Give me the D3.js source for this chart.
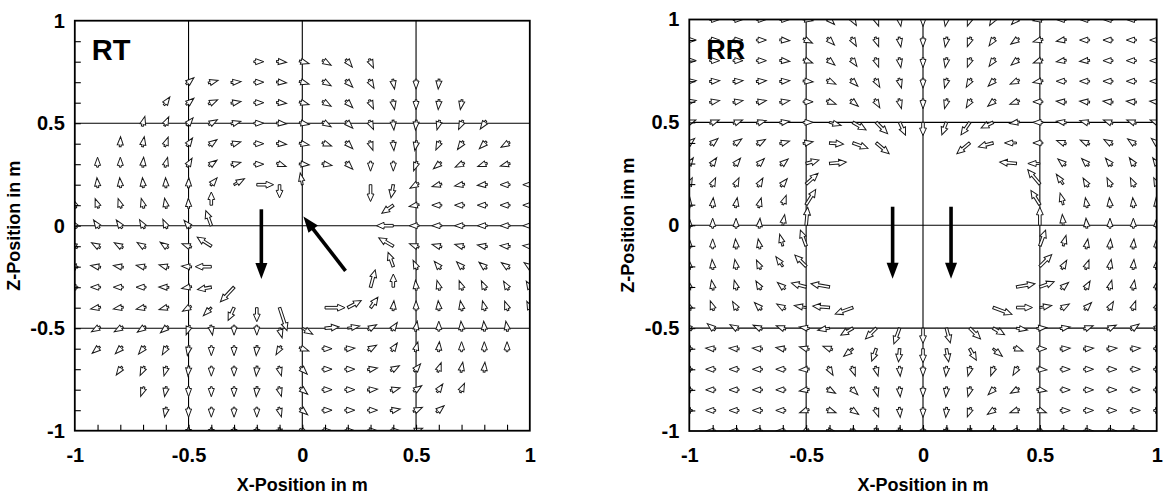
<!DOCTYPE html>
<html><head><meta charset="utf-8">
<script src="https://cdn.jsdelivr.net/npm/d3@7/dist/d3.min.js"></script>
<style>
body{margin:0;background:#fff}
svg{display:block}
text{font-family:"Liberation Sans",Arial,Helvetica,sans-serif;font-weight:bold;fill:#000}
</style>
</head><body>
<svg id="chart" width="1167" height="498"></svg>
<script>
// ---------------- data ----------------
const majorTicks = [-1, -0.5, 0, 0.5, 1];
const majorLabels = ["-1", "-0.5", "0", "0.5", "1"];
const minorTicks = [-0.9,-0.8,-0.7,-0.6,-0.5,-0.4,-0.3,-0.2,-0.1,0,0.1,0.2,0.3,0.4,0.5,0.6,0.7,0.8,0.9];
const gridLines = [-0.5, 0, 0.5];
const smallMag = 0.1;           // magnitude of the ordinary (small) vectors

// RT panel: rows [z, first x, angles in degrees (0 = +x, 90 = +z), null = no vector]
const rtRows = [
  [0.8, -0.2, [0,-5,-15,-30,-50,-65]],
  [0.7, -0.5, [40,15,5,0,-5,-15,-30,-45,-60,-80,-90,-95]],
  [0.6, -0.6, [55,40,25,10,0,-5,-15,-30,-45,-65,-80,-90,-95,-100]],
  [0.5, -0.7, [75,65,50,30,15,0,-5,-10,-30,-45,-65,-85,-95,-105,-115,-125]],
  [0.4, -0.8, [88,80,70,55,35,15,0,-5,-10,-20,-45,-70,-85,-100,-115,-125,-135,-150]],
  [0.3, -0.9, [90,90,85,75,60,35,15,0,-20,-5,-10,-45,-90,-90,-110,-140,-155,-160,-165]],
  [0.2, -0.9, [95,95,95,92,88,50,30,0,-90,100,null,null,-90,-100,-150,-165,-170,-175,180,180]],
  [0.1, -1.0, [110,110,108,105,100,92,90,null,null,null,null,null,null,null,-145,-170,180,180,180,180,180]],
  [0.0, -1.0, [125,125,125,120,115,130,110,null,null,null,null,null,null,null,180,180,180,180,180,180,180]],
  [-0.1,-1.0, [150,150,150,148,145,160,147,null,null,null,null,null,null,null,150,160,165,165,170,175,175]],
  [-0.2,-1.0, [170,170,170,168,165,175,180,null,null,null,null,null,null,null,110,115,130,135,140,145,145]],
  [-0.3,-1.0, [180,180,180,180,178,-170,-170,-133,null,null,null,null,null,75,90,95,105,110,115,120,120]],
  [-0.4,-0.9, [-170,-170,-168,-165,-150,-135,-115,-90,-72,null,0,28,55,85,90,95,100,105,110,115]],
  [-0.5,-0.9, [-150,-150,-145,-140,-110,-80,-90,-90,-75,-30,5,10,30,55,80,90,95,95,100]],
  [-0.6,-0.9, [-140,-135,-130,-120,-100,-90,-90,-95,-120,-20,0,5,30,55,75,85,90,90,90]],
  [-0.7,-0.8, [-125,-115,-105,-95,-90,-90,-95,-75,-45,0,0,10,30,50,70,80,85]],
  [-0.8,-0.7, [-110,-100,-90,-90,-90,-95,-75,-40,0,0,5,15,35,55,65]],
  [-0.9,-0.6, [-100,-90,-90,-90,-90,-75,-40,0,0,0,10,25,40]],
  [-1.0,-0.5, [-90,-90,-90,-90,-80,-30,0,0,0,0,20]]
];
// RT larger vectors: [x, z, magnitude]
const rtMags = [
  [-0.4,0.2,0.2],[-0.3,0.2,0.3],[-0.2,0.2,0.42],[-0.1,0.2,0.33],[0,0.2,0.3],[0.3,0.2,0.42],[0.4,0.2,0.33],
  [-0.4,0.1,0.33],[0.4,0.1,0.35],
  [-0.4,0,0.4],[0.4,0,0.42],
  [-0.4,-0.1,0.42],[0.4,-0.1,0.42],
  [-0.4,-0.2,0.4],[0.4,-0.2,0.38],
  [-0.4,-0.3,0.35],[-0.3,-0.3,0.5],[0.3,-0.3,0.45],[0.4,-0.3,0.33],
  [-0.4,-0.4,0.28],[-0.3,-0.4,0.35],[-0.2,-0.4,0.35],[-0.1,-0.4,0.6],[0.1,-0.4,0.5],[0.2,-0.4,0.38],[0.3,-0.4,0.32],
  [-0.1,-0.5,0.25],[0,-0.5,0.3],[0.1,-0.5,0.35],[0.2,-0.5,0.3]
];
// RR panel rows (all start at x = -1)
const rrRows = [
  [1.0, -1.0, [null,0,0,0,0,-10,-45,-60,-70,-80,-90,-100,-110,-120,-135,-170,180,180,180,180,null]],
  [0.9, -1.0, [0,0,0,0,-5,-25,-45,-60,-70,-80,-90,-100,-110,-125,-145,-165,-170,180,180,180,180]],
  [0.8, -1.0, [0,0,0,0,-5,-20,-40,-55,-70,-80,-90,-100,-110,-125,-140,-160,-170,-175,180,180,180]],
  [0.7, -1.0, [5,5,5,5,5,-5,-25,-45,-60,-75,-90,-105,-120,-135,-155,-170,180,180,180,180,180]],
  [0.6, -1.0, [10,10,10,10,10,0,-20,-40,-60,-75,-90,-105,-120,-140,-160,180,175,175,175,175,175]],
  [0.5, -1.0, [20,20,20,15,10,0,-15,-30,-45,-65,-90,-110,-125,-155,-170,180,170,165,160,160,160]],
  [0.4, -1.0, [40,40,35,30,15,10,-5,-20,-40,null,null,null,-140,-165,180,180,160,155,150,145,140]],
  [0.3, -1.0, [55,55,50,45,40,15,5,null,null,null,null,null,null,null,175,180,140,135,130,125,125]],
  [0.2, -1.0, [65,65,65,60,50,42,null,null,null,null,null,null,null,null,null,130,125,120,115,115,115]],
  [0.1, -1.0, [85,85,80,75,70,58,null,null,null,null,null,null,null,null,null,122,105,100,95,95,95]],
  [0.0, -1.0, [90,90,90,85,80,85,null,null,null,null,null,null,null,null,null,90,95,95,90,90,90]],
  [-0.1,-1.0, [90,90,95,100,105,110,null,null,null,null,null,null,null,null,null,70,75,80,85,85,90]],
  [-0.2,-1.0, [95,95,100,115,125,135,null,null,null,null,null,null,null,null,null,45,60,70,80,85,85]],
  [-0.3,-1.0, [100,100,105,120,140,165,170,null,null,null,null,null,null,null,10,20,40,60,75,80,80]],
  [-0.4,-1.0, [110,110,120,135,150,170,175,-160,null,null,null,null,null,-20,0,10,30,45,60,70,70]],
  [-0.5,-1.0, [140,140,150,155,160,170,-170,-150,-135,-110,-90,-75,-45,-30,-10,5,10,20,25,35,40]],
  [-0.6,-1.0, [180,175,175,175,170,165,160,-140,-110,-95,-90,-80,-60,-40,-20,0,5,5,5,5,0]],
  [-0.7,-1.0, [180,180,180,180,180,-175,-60,-70,-75,-85,-90,-95,-105,-110,-120,-5,0,0,0,0,0]],
  [-0.8,-1.0, [180,180,180,180,180,-170,-30,-45,-75,-85,-90,-95,-105,-135,-150,-10,0,0,0,0,0]],
  [-0.9,-1.0, [180,180,180,180,180,-160,-20,-35,-70,-85,-90,-95,-110,-145,-160,-20,0,0,0,0,0]],
  [-1.0,-1.0, [null,180,180,180,180,-150,-10,-30,-60,-80,-90,-100,-120,-150,-170,-30,0,0,0,0,null]]
];
const rrMags = [
  [-0.4,0.5,0.3],[-0.3,0.5,0.38],[-0.2,0.5,0.4],[-0.1,0.5,0.35],[0,0.5,0.33],[0.1,0.5,0.33],[0.2,0.5,0.38],[0.3,0.5,0.33],
  [-0.4,0.4,0.35],[-0.3,0.4,0.4],[-0.2,0.4,0.42],[0.2,0.4,0.42],[0.3,0.4,0.38],[0.4,0.4,0.3],
  [-0.5,0.3,0.33],[-0.4,0.3,0.42],[0.4,0.3,0.42],[0.5,0.3,0.3],
  [-0.5,0.2,0.4],[0.5,0.2,0.47],[0.6,0.2,0.3],
  [-0.6,0.1,0.25],[-0.5,0.1,0.45],[0.5,0.1,0.42],[0.6,0.1,0.3],
  [-0.6,0,0.27],[-0.5,0,0.45],[0.5,0,0.45],[0.6,0,0.27],
  [-0.6,-0.1,0.3],[-0.5,-0.1,0.42],[0.5,-0.1,0.42],[0.6,-0.1,0.27],
  [-0.6,-0.2,0.3],[-0.5,-0.2,0.4],[0.5,-0.2,0.42],
  [-0.5,-0.3,0.38],[-0.4,-0.3,0.47],[0.4,-0.3,0.47],[0.5,-0.3,0.38],
  [-0.5,-0.4,0.3],[-0.4,-0.4,0.42],[-0.3,-0.4,0.47],[0.3,-0.4,0.5],[0.4,-0.4,0.4],[0.5,-0.4,0.3],
  [-0.4,-0.5,0.3],[-0.3,-0.5,0.35],[-0.2,-0.5,0.38],[-0.1,-0.5,0.42],[0,-0.5,0.38],[0.1,-0.5,0.38],[0.2,-0.5,0.38],[0.3,-0.5,0.33],[0.4,-0.5,0.28],
  [-0.3,-0.6,0.3],[-0.2,-0.6,0.33],[-0.1,-0.6,0.33],[0,-0.6,0.35],[0.1,-0.6,0.33],[0.2,-0.6,0.33],[0.3,-0.6,0.3]
];
// bold black arrows: [x0, z0, x1, z1]
const rtBlack = [[-0.18,0.08,-0.18,-0.26],[0.19,-0.22,0.005,0.045]];
const rrBlack = [[-0.13,0.09,-0.13,-0.26],[0.12,0.09,0.12,-0.26]];

const panels = [
  {key:"rt", name:"RT", ytitle:"Z-Position in m", xtitle:"X-Position in m",
   rows:rtRows, mags:rtMags, black:rtBlack, px:[74.8,529.8], py:[430.7,20.7], nameSize:29},
  {key:"rr", name:"RR", ytitle:"Z-Position im m", xtitle:"X-Position in m",
   rows:rrRows, mags:rrMags, black:rrBlack, px:[689.3,1156.7], py:[431,19.5], nameSize:27}
];

// ---------------- drawing ----------------
const svg = d3.select("#chart");
const K = 40;        // px per magnitude unit
const LMIN = 10;     // min glyph length
const HL = 7.5, HW = 3.0, SW = 0.9;

function vectors(rows, mags){
  const mm = new Map(mags.map(d => [d[0].toFixed(1)+","+d[1].toFixed(1), d[2]]));
  const out = [];
  rows.forEach(([z,x0,angs]) => angs.forEach((a,i) => {
    if (a === null) return;
    const x = Math.round((x0 + i*0.1)*10)/10;
    const k = x.toFixed(1)+","+z.toFixed(1);
    out.push({x, z, a, m: mm.has(k) ? mm.get(k) : smallMag});
  }));
  return out;
}
function glyph(L){
  const t = -L/2, h = L/2 - (L > 12 ? HL : 8.2);
  const hw = L > 12 ? HW + 0.4 : HW, sw = L > 12 ? SW + 0.4 : SW;
  return `M${t},${-sw}L${h},${-sw}L${h},${-hw}L${L/2},0L${h},${hw}L${h},${sw}L${t},${sw}Z`;
}

panels.forEach(p => {
  const x = d3.scaleLinear().domain([-1,1]).range(p.px);
  const y = d3.scaleLinear().domain([-1,1]).range(p.py);
  const g = svg.append("g");
  const [L,R] = p.px, [B,T] = p.py;

  svg.append("defs").append("clipPath").attr("id","clip-"+p.key)
    .append("rect").attr("x",L).attr("y",T).attr("width",R-L).attr("height",B-T);

  // grid
  g.append("g").selectAll("line.v").data(gridLines).join("line")
    .attr("x1",d=>x(d)).attr("x2",d=>x(d)).attr("y1",T).attr("y2",B)
    .attr("stroke","#000").attr("stroke-width",1.1);
  g.append("g").selectAll("line.h").data(gridLines).join("line")
    .attr("y1",d=>y(d)).attr("y2",d=>y(d)).attr("x1",L).attr("x2",R)
    .attr("stroke","#000").attr("stroke-width",1.1);

  // vectors
  const vs = vectors(p.rows, p.mags);
  g.append("g").attr("clip-path",`url(#clip-${p.key})`)
    .selectAll("path").data(vs).join("path")
    .attr("d", d => glyph(Math.max(d.m*K, LMIN)))
    .attr("transform", d => {
      const l = d.m*K, r = d.a*Math.PI/180;
      const cx = x(d.x) + Math.cos(r)*l/2, cy = y(d.z) - Math.sin(r)*l/2;
      return `translate(${cx},${cy}) rotate(${-d.a})`;
    })
    .attr("fill","#fff").attr("stroke","#1a1a1a").attr("stroke-width",1)
    .attr("stroke-linejoin","miter");

  // minor ticks (inside)
  g.append("g").attr("transform",`translate(${L},0)`)
    .call(d3.axisRight(y).tickValues(minorTicks).tickSize(6).tickFormat(""))
    .call(s => s.select(".domain").remove())
    .selectAll("line").attr("stroke","#000").attr("stroke-width",1.1);
  g.append("g").attr("transform",`translate(0,${B})`)
    .call(d3.axisTop(x).tickValues(minorTicks).tickSize(6).tickFormat(""))
    .call(s => s.select(".domain").remove())
    .selectAll("line").attr("stroke","#000").attr("stroke-width",1.1);

  // frame
  g.append("rect").attr("x",L).attr("y",T).attr("width",R-L).attr("height",B-T)
    .attr("fill","none").attr("stroke","#000").attr("stroke-width",1.8);

  // black arrows
  p.black.forEach(([x0,z0,x1,z1]) => {
    const X0=x(x0),Y0=y(z0),X1=x(x1),Y1=y(z1);
    const ang = Math.atan2(Y1-Y0, X1-X0), len = Math.hypot(X1-X0,Y1-Y0);
    const hl = 16, hw = 6;
    const bg = g.append("g").attr("transform",`translate(${X0},${Y0}) rotate(${ang*180/Math.PI})`);
    bg.append("line").attr("x1",0).attr("y1",0).attr("x2",len-hl+2).attr("y2",0)
      .attr("stroke","#000").attr("stroke-width",3.6);
    bg.append("path").attr("d",`M${len},0L${len-hl},${-hw}L${len-hl},${hw}Z`).attr("fill","#000");
  });

  // axes with labels
  const fmt = d => majorLabels[majorTicks.indexOf(d)];
  const ax = g.append("g").attr("transform",`translate(0,${B})`)
    .call(d3.axisBottom(x).tickValues(majorTicks).tickFormat(fmt).tickSize(0).tickPadding(17));
  ax.select(".domain").remove();
  ax.selectAll("text").attr("font-size",20).attr("font-family","Liberation Sans, Arial, sans-serif").attr("font-weight","bold");
  const ay = g.append("g").attr("transform",`translate(${L},0)`)
    .call(d3.axisLeft(y).tickValues(majorTicks).tickFormat(fmt).tickSize(0).tickPadding(10));
  ay.select(".domain").remove();
  ay.selectAll("text").attr("font-size",20).attr("font-family","Liberation Sans, Arial, sans-serif").attr("font-weight","bold");

  // titles
  g.append("text").attr("x",(L+R)/2).attr("y",491).attr("text-anchor","middle")
    .attr("font-size",18).text(p.xtitle);
  g.append("text").attr("transform",`translate(${L-55},${(T+B)/2}) rotate(-90)`)
    .attr("text-anchor","middle").attr("font-size",18).text(p.ytitle);
  g.append("text").attr("x",L+17).attr("y",T+39).attr("font-size",p.nameSize).text(p.name);
});
</script>
</body></html>
